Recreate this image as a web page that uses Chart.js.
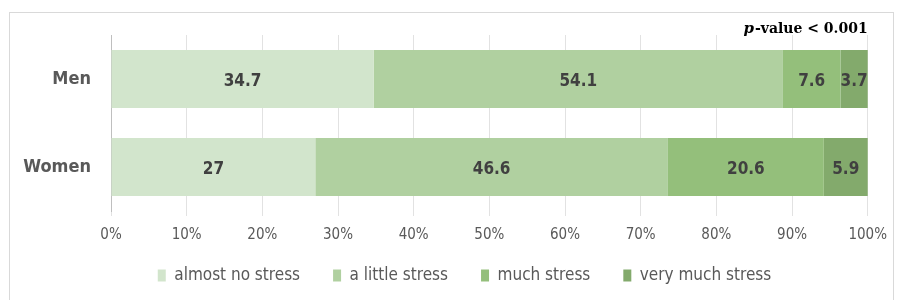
<!DOCTYPE html>
<html lang="en">
<head>
  <meta charset="UTF-8" />
  <title>Stress by gender</title>
  <script src="https://cdn.jsdelivr.net/npm/chart.js"></script>
  <style>
    body { margin: 0; padding: 0; background: #fff; }
    #wrap { width: 897px; height: 300px; position: relative; }
  </style>
</head>
<body>
<div id="wrap"><canvas id="stressChart" width="897" height="300"></canvas></div>
<script>
const groups = ["Men", "Women"];
const levels = ["almost no stress", "a little stress", "much stress", "very much stress"];
const almostNone = [34.7, 27];
const aLittle = [54.1, 46.6];
const much = [7.6, 20.6];
const veryMuch = [3.7, 5.9];
const xTicks = [0, 10, 20, 30, 40, 50, 60, 70, 80, 90, 100];
const colors = ["#d2e5cc", "#b0d0a0", "#94bf7b", "#83aa6c"];

const FONT = "'DejaVu Sans Condensed', 'Liberation Sans Narrow', sans-serif";

// frame + p-value note + numbers inside bars
const extras = {
  id: "extras",
  beforeUpdate(chart) {
    const lg = chart.legend;
    if (!lg || lg._patched) return;
    lg._patched = true;
    // keep wide gaps between legend items but a short legend box
    const fit = lg.fit;
    lg.fit = function () { fit.call(this); this.height = 45; };
    const draw = lg.draw;
    lg.draw = function () {
      const box = { top: this.top, height: this.height, left: this.left, right: this.right, width: this.width };
      this.top -= 21; this.height += 21;
      this.left += 30; this.right += 30;
      draw.call(this);
      Object.assign(this, box);
    };
  },
  beforeDraw(chart) {
    const c = chart.ctx;
    c.save();
    c.strokeStyle = "#d9d9d9";
    c.lineWidth = 1;
    c.strokeRect(9.5, 12.5, 884, 300);
    c.restore();
  },
  afterDatasetsDraw(chart) {
    const c = chart.ctx;
    c.save();
    c.font = "bold 17px " + FONT;
    c.fillStyle = "#404040";
    c.textAlign = "center";
    c.textBaseline = "middle";
    chart.data.datasets.forEach((ds, i) => {
      chart.getDatasetMeta(i).data.forEach((bar, j) => {
        const left = Math.min(bar.x, bar.base);
        const right = Math.min(Math.max(bar.x, bar.base), chart.chartArea.right);
        c.fillText(String(ds.data[j]), (left + right) / 2, bar.y + 3);
      });
    });
    // p-value text
    c.textBaseline = "alphabetic";
    c.textAlign = "right";
    c.fillStyle = "#000";
    const rest = "-value < 0.001";
    c.font = "bold 14px 'DejaVu Serif', 'Liberation Serif', serif";
    const x = chart.chartArea.right;
    c.fillText(rest, x, 33);
    const w = c.measureText(rest).width;
    c.font = "italic bold 15px 'DejaVu Serif', 'Liberation Serif', serif";
    c.fillText("p", x - w - 1, 33);
    c.restore();
  }
};

new Chart(document.getElementById("stressChart"), {
  type: "bar",
  data: {
    labels: groups,
    datasets: [
      { label: levels[0], data: almostNone, backgroundColor: colors[0] },
      { label: levels[1], data: aLittle, backgroundColor: colors[1] },
      { label: levels[2], data: much, backgroundColor: colors[2] },
      { label: levels[3], data: veryMuch, backgroundColor: colors[3] }
    ]
  },
  options: {
    indexAxis: "y",
    responsive: false,
    animation: false,
    layout: { padding: { left: 0, right: 28, top: 35, bottom: 0 } },
    datasets: { bar: { categoryPercentage: 0.66, barPercentage: 1, borderWidth: 0 } },
    scales: {
      x: {
        stacked: true,
        min: 0,
        max: 100,
        z: 1,
        afterBuildTicks: s => { s.ticks = xTicks.map(v => ({ value: v })); },
        afterFit: s => { s.height = 44; },
        grid: { color: "rgba(190,190,190,0.45)", tickLength: 5, lineWidth: 1 },
        border: { display: false },
        ticks: {
          color: "#595959",
          font: { family: FONT, size: 15 },
          padding: 10,
          callback: v => v + "%"
        }
      },
      y: {
        stacked: true,
        afterFit: s => { s.width = 111; },
        grid: { display: false },
        border: { display: true, color: "#bfbfbf", width: 1 },
        ticks: {
          color: "#595959",
          font: { family: FONT, size: 18, weight: "bold" },
          padding: 12
        }
      }
    },
    plugins: {
      legend: {
        position: "bottom",
        labels: {
          color: "#595959",
          font: { family: FONT, size: 17 },
          boxWidth: 8,
          boxHeight: 12,
          padding: 33
        }
      },
      tooltip: { enabled: false }
    }
  },
  plugins: [extras]
});
</script>
</body>
</html>
